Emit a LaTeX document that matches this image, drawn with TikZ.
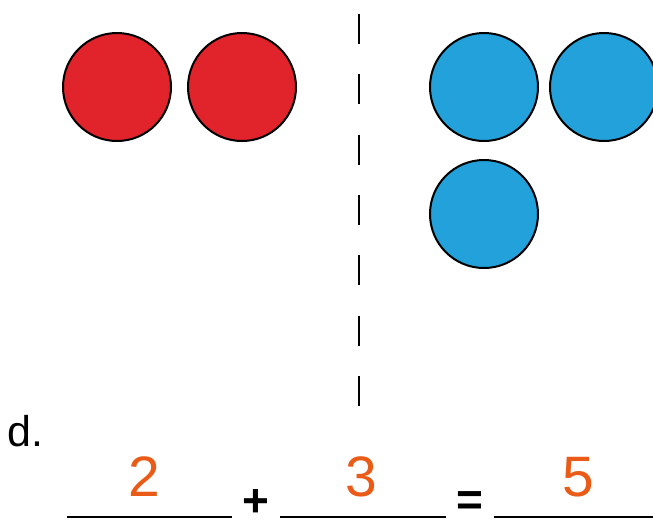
\documentclass[tikz,border=0pt]{standalone}
\usepackage{fontspec}
\setmainfont{Liberation Sans}
\definecolor{dotred}{HTML}{E1232B}
\definecolor{dotblue}{HTML}{22A1DA}
\definecolor{ansorange}{HTML}{E95B17}
\begin{document}
\begin{tikzpicture}[x=1pt,y=-1pt,
  dot/.style={circle,draw=black,line width=2pt,minimum size=108pt,inner sep=0pt},
  reddot/.style={dot,fill=dotred},
  bluedot/.style={dot,fill=dotblue},
  answer/.style={text=ansorange,font=\fontsize{57}{60}\selectfont,inner sep=0pt,anchor=base},
  blank/.style={line width=2.2pt},
  sym/.style={font=\bfseries\fontsize{46}{48}\selectfont,inner sep=0pt,anchor=center}]
\useasboundingbox (0,0) rectangle (653,520);
\node[reddot] (r1) at (117,87) {};
\node[reddot] (r2) at (242,87) {};
\node[bluedot] (b1) at (484,87) {};
\node[bluedot] (b2) at (604,87) {};
\node[bluedot] (b3) at (484,214) {};
\coordinate (dtop) at (359,14);
\coordinate (dbot) at (359,410);
\draw[line width=2.6pt,dash pattern=on 30pt off 30.3pt] (dtop) -- (dbot);
\node[font=\fontsize{43}{46}\selectfont,inner sep=0pt,anchor=base west] (lab) at (7,446) {d.};
\coordinate (l1a) at (67,517); \coordinate (l1b) at (232,517);
\coordinate (l2a) at (280,517); \coordinate (l2b) at (446,517);
\coordinate (l3a) at (494,517); \coordinate (l3b) at (653,517);
\draw[blank] (l1a) -- (l1b);
\draw[blank] (l2a) -- (l2b);
\draw[blank] (l3a) -- (l3b);
\node[answer] (n2) at (144,496) {2};
\node[answer] (n3) at (361,496) {3};
\node[answer] (n5) at (578,496) {5};
\node[sym] (plus) at (256,503) {+};
\node[sym] (eq) at (470,503.5) {=};
\end{tikzpicture}
\end{document}
